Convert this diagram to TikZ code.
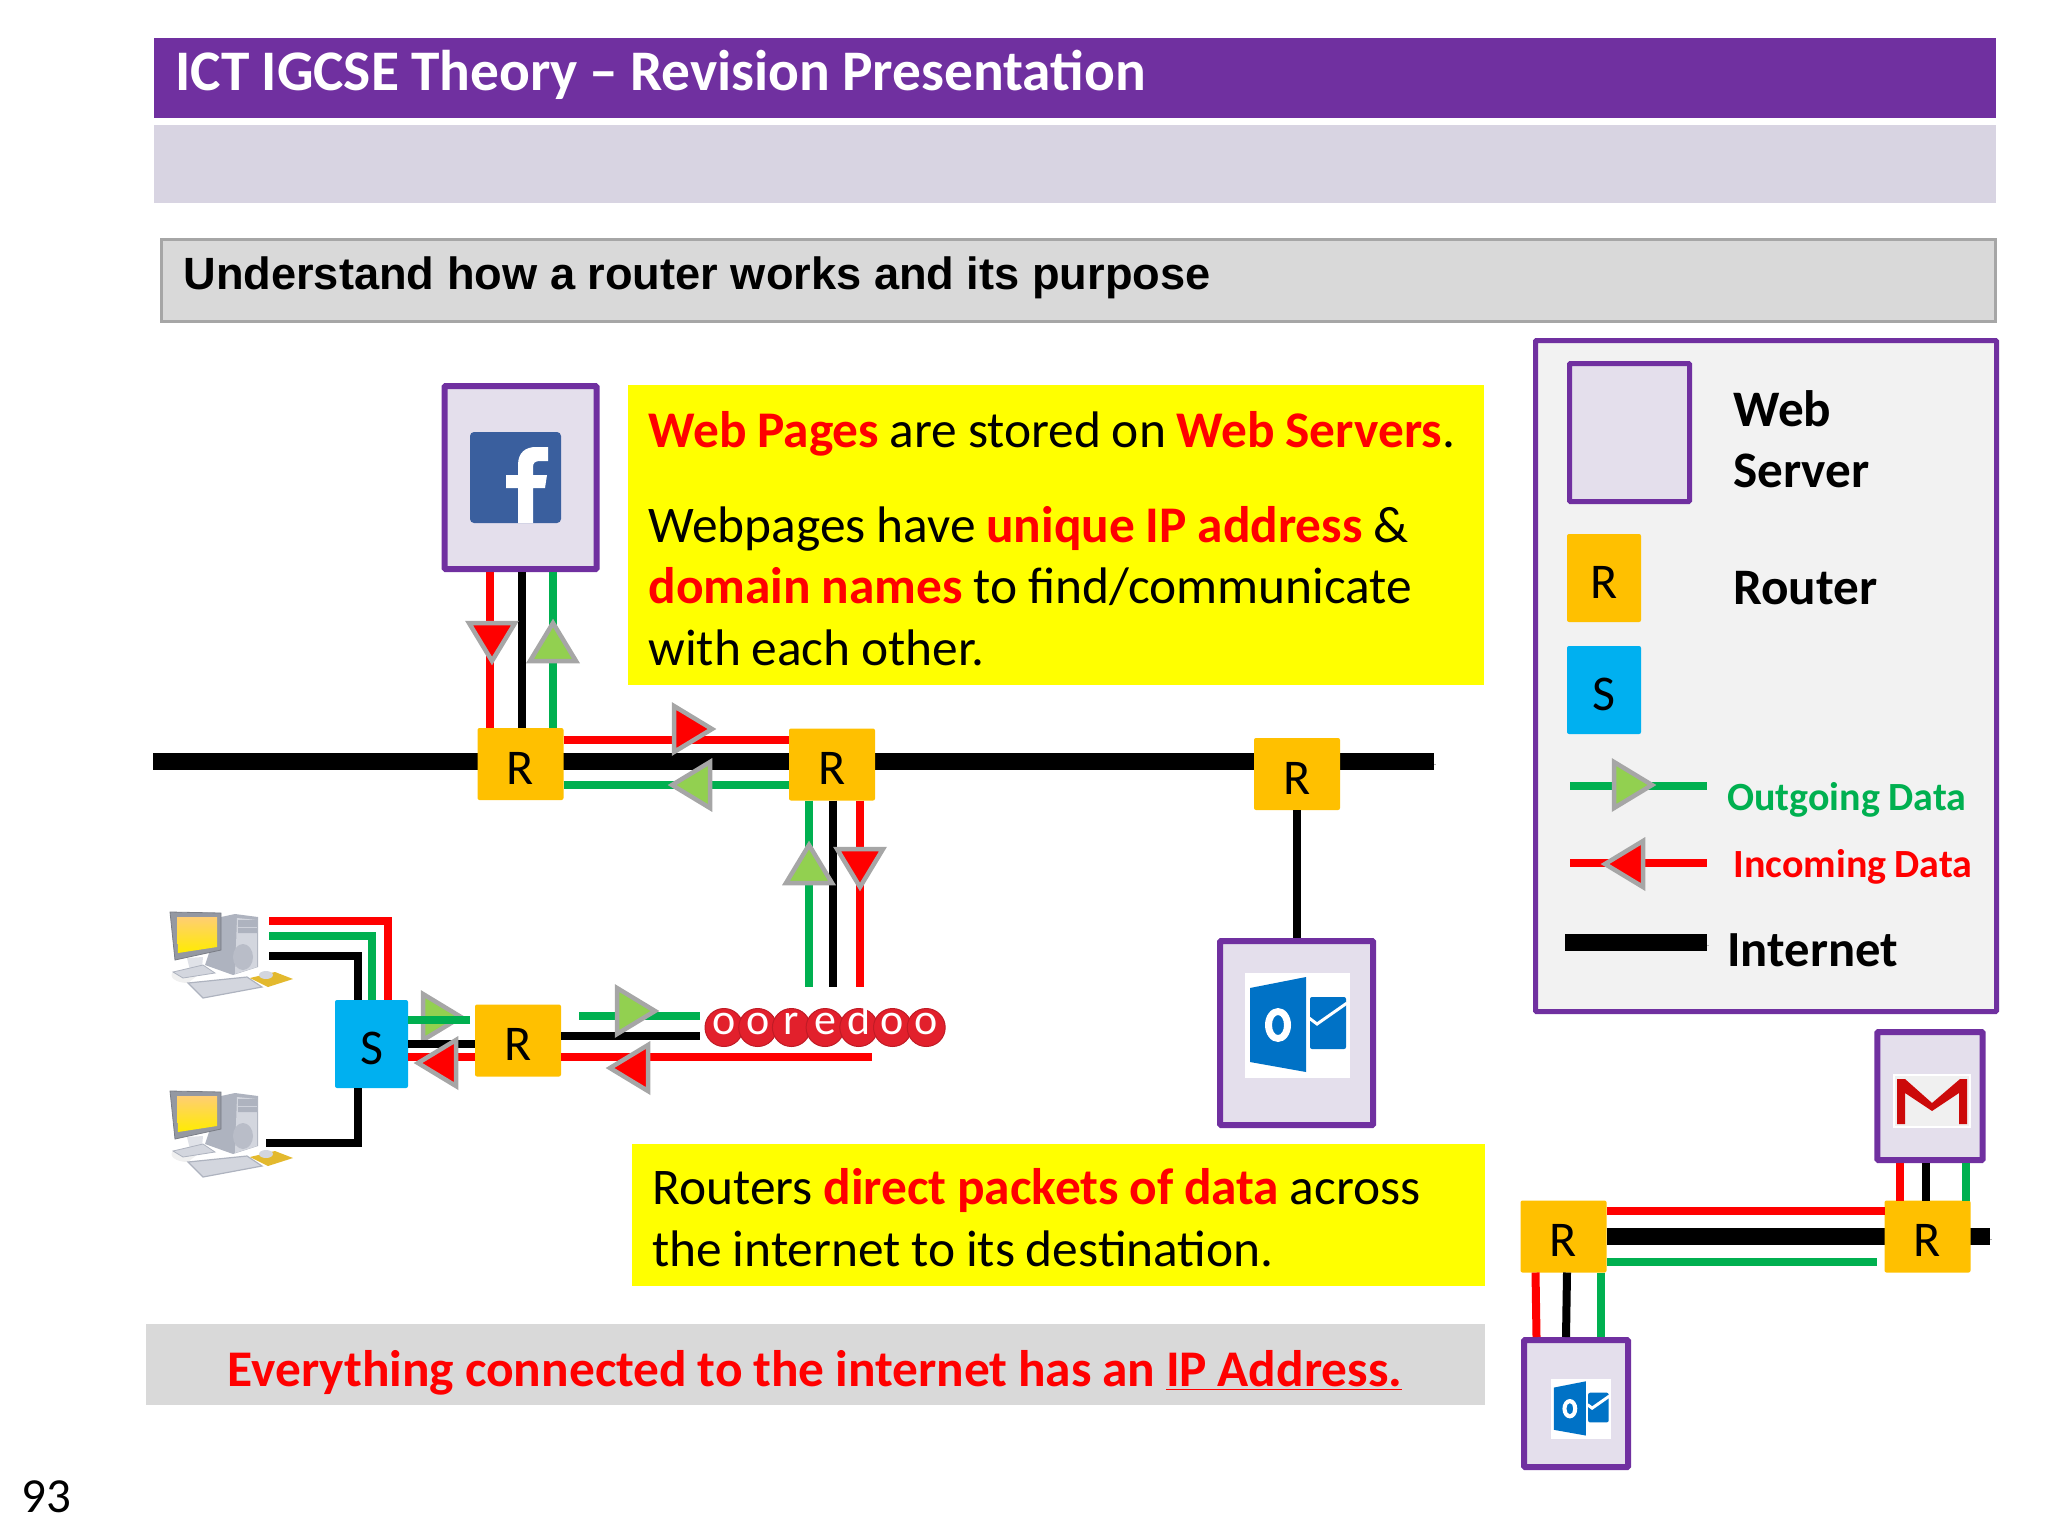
\documentclass[tikz,border=0pt]{standalone}
\usepackage{fontspec}
\setmainfont{Carlito}[WordSpace=0.92]
\newfontfamily\arialfont{Liberation Sans}
\definecolor{titlepurple}{HTML}{7030A0}
\definecolor{bandlilac}{HTML}{D8D4E2}
\definecolor{weblilac}{HTML}{E4DFEC}
\definecolor{panelgrey}{HTML}{D9D9D9}
\definecolor{panelline}{HTML}{A6A6A6}
\definecolor{keygrey}{HTML}{F2F2F2}
\definecolor{notered}{HTML}{FF0000}
\definecolor{noteyellow}{HTML}{FFFF00}
\definecolor{datagreen}{HTML}{00B050}
\definecolor{tipgreen}{HTML}{92D050}
\definecolor{routerorange}{HTML}{FFC000}
\definecolor{switchblue}{HTML}{00B0F0}
\definecolor{fbblue}{HTML}{3A5F9E}
\definecolor{mailblue}{HTML}{0072C6}
\definecolor{gmailred}{HTML}{CC0A0A}
\definecolor{logored}{HTML}{E2202C}
\definecolor{pcside}{HTML}{AEB3BF}
\definecolor{pcfront}{HTML}{D3D6DE}
\definecolor{pcpad}{HTML}{E3B92E}
\newcommand{\hot}[1]{\textcolor{notered}{\textbf{#1}}}
% triangle on a wire: outer tip x, y, direction, fill
\newcommand{\flowtip}[4]{\path[draw=panelline, line width=2.25pt, line join=miter, fill=#4, shift={(#1,#2)}, rotate=#3] (-5,0) -- (-43,-23) -- (-43,23) -- cycle;}
\tikzset{
  webbox/.style={draw=titlepurple, fill=weblilac, line width=3pt, rounded corners=0.5pt},
  routerbox/.style={fill=routerorange, rounded corners=1pt, inner sep=0pt, outer sep=0pt, minimum width=43pt, minimum height=36pt, text height=20pt, text depth=0pt, font=\fontsize{25}{30}\selectfont},
  switchbox/.style={fill=switchblue, rounded corners=1pt, inner sep=0pt, outer sep=0pt, text height=20pt, text depth=0pt, font=\fontsize{25}{30}\selectfont},
  redwire/.style={draw=notered, line width=4pt},
  greenwire/.style={draw=datagreen, line width=4pt},
  blackwire/.style={draw=black, line width=4pt},
  internet/.style={draw=black, line width=8.5pt, preaction={draw=black!30, transform canvas={shift={(1pt,-1.5pt)}}}},
  plaintext/.style={anchor=base west, inner sep=0pt},
  notebox/.style={anchor=north west, fill=noteyellow, inner sep=0pt},
  notetext/.style={anchor=base west, inner sep=0pt, align=left, font=\fontsize{25.7}{30.75}\selectfont},
  keylabel/.style={anchor=base west, inner sep=0pt, font=\bfseries\fontsize{25.6}{30.5}\selectfont},
  logoball/.style={circle, fill=logored, draw=logored!85!black, line width=0.5pt, minimum size=19pt, inner sep=0pt, text=white, text height=1.5ex, text depth=0pt, font=\fontsize{22}{22}\selectfont},
  computer/.pic={
    \path[fill=black!6] (1,61) .. controls (-4,66) and (4,72) .. (16,72) -- (31,60) -- cycle;
    \path[fill=pcside] (33,54) -- (49,6) -- (63,3) -- (86,6) -- (86,56) -- (61,64) -- cycle;
    \path[fill=pcfront] (65,7) -- (85,9) -- (85,56) -- (63,63) -- cycle;
    \path[fill=pcside] (66,9) rectangle (85,16) (66,17) rectangle (85,22);
    \path[fill=pcside!70!pcfront] (71,46) ellipse (10 and 13);
    \path[fill=pcfront!70!white] (15,47) -- (31,46) -- (30,57) -- (18,59) -- cycle;
    \path[fill=pcfront, draw=pcside, line width=0.4pt] (1,61) -- (31,54) -- (43,62) -- (11,67) -- cycle;
    \path[fill=pcfront, draw=pcside, line width=0.6pt] (16,72) -- (75,66) -- (90,76) -- (31,87) -- cycle;
    \path[fill=pcside!85!black, draw=pcside!70!black, line width=0.4pt] (-2,1) -- (49,2) -- (49,39) -- (3,49) -- cycle;
    \path[top color=yellow!30!orange!55!white, bottom color=yellow!85!orange] (5,6) -- (45,6) -- (45,36) -- (6,42) -- cycle;
    \path[fill=pcpad] (78,67) -- (103,61) -- (121,68) -- (96,76) -- cycle;
    \path[fill=pcfront] (94,64) ellipse (7 and 4);
  },
  outlookicon/.pic={
    \path[fill=white] (0,0) rectangle (105,105);
    \path[fill=mailblue] (5,15) -- (61,4) -- (61,99) -- (5,89) -- cycle;
    \path[fill=mailblue, rounded corners=1pt] (65,24) rectangle (101,76);
    \path[draw=white, line width=1.5pt] (64,45) -- (72,51) -- (102,30);
    \path[fill=white, even odd rule] (33,52) ellipse (13 and 17) (33,52) ellipse (6 and 10);
  },
}

\begin{document}
\begin{tikzpicture}[x=0.5pt, y=-0.5pt]
    \useasboundingbox (0,0) rectangle (2048,1536);

    % Faixas do topo
    \node[fill=titlepurple, anchor=north west, minimum width=921pt, minimum height=40pt, inner sep=0pt] (titleband) at (154,38) {};
    \node[plaintext, text=white, font=\bfseries\fontsize{28.7}{32}\selectfont] (titletext) at (175,90.5) {ICT IGCSE Theory – Revision Presentation};
    \node[fill=bandlilac, anchor=north west, minimum width=921pt, minimum height=39pt, inner sep=0pt] (lilacband) at (154,125) {};
    \node[fill=panelgrey, draw=panelline, line width=1.5pt, anchor=north west, minimum width=917pt, minimum height=41pt, inner sep=0pt] (topicband) at (160,238) {};
    \node[plaintext, font=\arialfont\bfseries\fontsize{22.6}{26}\selectfont] (topictext) at (183,289.5) {Understand how a router works and its purpose};

    % Linha da internet
    \coordinate (netleft) at (153,761);
    \coordinate (netright) at (1434,761);
    \path[internet] (netleft) -- (netright);

    % Servidores e roteadores
    \node[webbox, minimum width=76pt, minimum height=91.5pt] (fbbox) at (520.5,477.5) {};
    \node[routerbox] (routera) at (520.5,764) {R};
    \node[routerbox] (routerb) at (832,764.5) {R};
    \node[routerbox] (routerc) at (1297,774) {R};
    \node[routerbox] (routerd) at (518,1040.5) {R};
    \node[switchbox, minimum width=36.5pt, minimum height=44pt] (switcha) at (371.5,1044) {S};
    \node[webbox, minimum width=76.5pt, minimum height=92pt] (outlookbox) at (1296.5,1033) {};

    % Icone do Facebook
    \path[fill=fbblue, rounded corners=2pt] (470,432) rectangle (561,523);
    \path[fill=white] (518,523) -- (518,488) -- (506,488) -- (506,475) -- (518,475) -- (518,465)
      .. controls (518,452) and (526,447) .. (536,447) -- (548,447) -- (548,461) -- (540,461)
      .. controls (535,461) and (533,463) .. (533,467) -- (533,475) -- (547,475) -- (545,488) -- (533,488) -- (533,523) -- cycle;
    \pic at (1245,973) {outlookicon};

    % Fios entre servidor e roteador
    \path[redwire] ([xshift=-15.25pt]fbbox.south) -- ([xshift=-15.25pt]routera.north);
    \path[blackwire] ([xshift=0.75pt]fbbox.south) -- ([xshift=0.75pt]routera.north);
    \path[greenwire] ([xshift=16.25pt]fbbox.south) -- ([xshift=16.25pt]routera.north);
    \path[blackwire] (routerc.south) -- (routerc.south |- outlookbox.north);
    \flowtip{492}{666}{-90}{notered}
    \flowtip{553}{618}{90}{tipgreen}

    % Roteador a roteador
    \path[redwire] ([yshift=12pt]routera.east) -- ([yshift=12pt]routera.east -| routerb.west);
    \path[greenwire] ([yshift=-10.5pt]routera.east) -- ([yshift=-10.5pt]routera.east -| routerb.west);
    \flowtip{717}{729}{0}{notered}
    \flowtip{667}{785}{180}{tipgreen}

    % Roteador ao provedor
    \coordinate (ispup) at (832,987);
    \path[greenwire] ([xshift=-11.75pt]routerb.south) -- ([xshift=-11.75pt]ispup);
    \path[blackwire] ([xshift=0.5pt]routerb.south) -- ([xshift=0.5pt]ispup);
    \path[redwire] ([xshift=14pt]routerb.south) -- ([xshift=14pt]ispup);
    \flowtip{809}{840}{90}{tipgreen}
    \flowtip{860}{892}{-90}{notered}

    % Logo do provedor
    \foreach \letra [count=\i from 0] in {o,o,r,e,d,o,o}
      \node[logoball] (logo\i) at (724+33.7*\i,1027.5) {\letra};

    % Computadores
    \pic at (172,911) {computer};
    \pic at (172,1090) {computer};
    \coordinate (pcared) at (269,921);
    \coordinate (pcagreen) at (269,936);
    \coordinate (pcablack) at (269,956);
    \coordinate (pcbblack) at (266,1143);
    \path[redwire] (pcared) -| ([xshift=8.25pt]switcha.north);
    \path[greenwire] (pcagreen) -| ([xshift=0.25pt]switcha.north);
    \path[blackwire] (pcablack) -| ([xshift=-6.75pt]switcha.north);
    \path[blackwire] (pcbblack) -| ([xshift=-6.75pt]switcha.south);

    % Switch e roteador
    \coordinate (switchgreen) at (470,1020);
    \flowtip{466}{1017}{0}{tipgreen}
    \path[greenwire] (switcha.east |- switchgreen) -- (switchgreen);
    \path[blackwire] (switcha.east) -- (switcha.east -| routerd.west);
    \path[redwire] ([yshift=-6.5pt]switcha.east) -- ([yshift=-6.5pt]switcha.east -| routerd.west);
    \flowtip{413}{1063}{180}{notered}
    \coordinate (ispgreenin) at (579,1016);
    \coordinate (ispgreen) at (700,1016);
    \coordinate (ispblack) at (700,1036);
    \coordinate (ispred) at (872,1057);
    \path[greenwire] (ispgreenin) -- (ispgreen);
    \path[blackwire] (routerd.east |- ispblack) -- (ispblack);
    \path[redwire] (routerd.east |- ispred) -- (ispred);
    \flowtip{660}{1011}{0}{tipgreen}
    \flowtip{605}{1068}{180}{notered}

    % Caixas de texto
    \node[notebox, minimum width=428pt, minimum height=150pt] (webnote) at (628,385) {};
    \node[notetext] (webnotetext) at (648,665) {\hot{Web Pages} are stored on \hot{Web Servers}.\\[16.5pt]
      Webpages have \hot{unique IP address} \&\\ \hot{domain names} to find/communicate\\ with each other.};
    \node[notebox, minimum width=426.5pt, minimum height=71pt] (routernote) at (632,1144) {};
    \node[notetext] (routernotetext) at (652,1266) {Routers \hot{direct packets of data} across\\ the internet to its destination.};
    \node[fill=panelgrey, anchor=north west, minimum width=669.5pt, minimum height=40.5pt, inner sep=0pt] (ipband) at (146,1324) {};
    \node[anchor=base, inner sep=0pt, text=notered, font=\bfseries\fontsize{25.7}{30}\selectfont] (iptext) at (815,1386) {Everything connected to the internet has an \underline{IP Address.}};
    \node[plaintext, font=\fontsize{24.5}{30}\selectfont] (pagenum) at (21,1512) {93};

    % Legenda
    \node[draw=titlepurple, fill=keygrey, line width=2.5pt, rounded corners=0.5pt, anchor=north west, minimum width=230.5pt, minimum height=335.5pt, inner sep=0pt] (keypanel) at (1533,338) {};
    \node[webbox, line width=2.5pt, minimum width=60pt, minimum height=69pt] (keyweb) at (1629.5,432.5) {};
    \node[routerbox, minimum width=37pt, minimum height=44pt] (keyrouter) at (1604,578) {R};
    \node[switchbox, minimum width=37pt, minimum height=44pt] (keyswitch) at (1604,690) {S};
    \node[keylabel, align=left] (keywebtext) at (1733,487) {Web\\Server};
    \node[keylabel] (keyroutertext) at (1733,604) {Router};
    \coordinate (keyoutl) at (1570,786);
    \coordinate (keyoutr) at (1707,786);
    \coordinate (keyinl) at (1570,863);
    \coordinate (keyinr) at (1707,863);
    \coordinate (keynetl) at (1565,942);
    \coordinate (keynetr) at (1707,942);
    \path[greenwire] (keyoutl) -- (keyoutr);
    \path[redwire] (keyinl) -- (keyinr);
    \path[internet] (keynetl) -- (keynetr);
    \flowtip{1657}{785}{0}{tipgreen}
    \flowtip{1600}{864}{180}{notered}
    \node[plaintext, text=datagreen, font=\bfseries\fontsize{20}{24}\selectfont] (keyouttext) at (1727,810) {Outgoing Data};
    \node[plaintext, text=notered, font=\bfseries\fontsize{20}{24}\selectfont] (keyintext) at (1733,877) {Incoming Data};
    \node[keylabel, font=\bfseries\fontsize{25.3}{30.5}\selectfont] (keynettext) at (1727,966) {Internet};

    % Canto inferior direito
    \node[webbox, minimum width=52.7pt, minimum height=64pt] (gmailbox) at (1930,1096) {};
    \node[webbox, minimum width=52pt, minimum height=63.5pt] (smallmailbox) at (1576,1403.5) {};
    \node[routerbox] (routere) at (1563.5,1236.5) {R};
    \coordinate (mailnetend) at (1990,1236.5);
    \path[internet] (routere.east) -- (mailnetend);
    \node[routerbox] (routerf) at (1927.5,1236.5) {R};
    \path[redwire] ([yshift=12.75pt]routere.east) -- ([yshift=12.75pt]routere.east -| routerf.west);
    \coordinate (mailgreenend) at (1877,1262);
    \path[greenwire] (routere.east |- mailgreenend) -- (mailgreenend);
    \path[redwire] (routerf.north -| 1900,0) -- (gmailbox.south -| 1900,0);
    \path[blackwire] (routerf.north -| 1926,0) -- (gmailbox.south -| 1926,0);
    \path[greenwire] (routerf.north -| 1966,0) -- (gmailbox.south -| 1966,0);
    \path[redwire] (routere.south -| 1535.5,0) -- (smallmailbox.north -| 1536.5,0);
    \path[blackwire] (routere.south -| 1567,0) -- (smallmailbox.north -| 1566,0);
    \path[greenwire] (routere.south -| 1601,0) -- (smallmailbox.north -| 1601,0);
    \pic[scale=0.571] at (1551,1379) {outlookicon};

    % Icone do Gmail
    \path[fill=black!6, draw=white, line width=1pt] (1894,1075) rectangle (1970,1127);
    \path[fill=gmailred] (1897,1124) -- (1897,1079) -- (1905,1079) -- (1932,1103) -- (1960,1079) -- (1967,1079) -- (1967,1124) -- (1959,1124)
      -- (1959,1093) -- (1932,1111) -- (1905,1093) -- (1905,1124) -- cycle;

\end{tikzpicture}
\end{document}
